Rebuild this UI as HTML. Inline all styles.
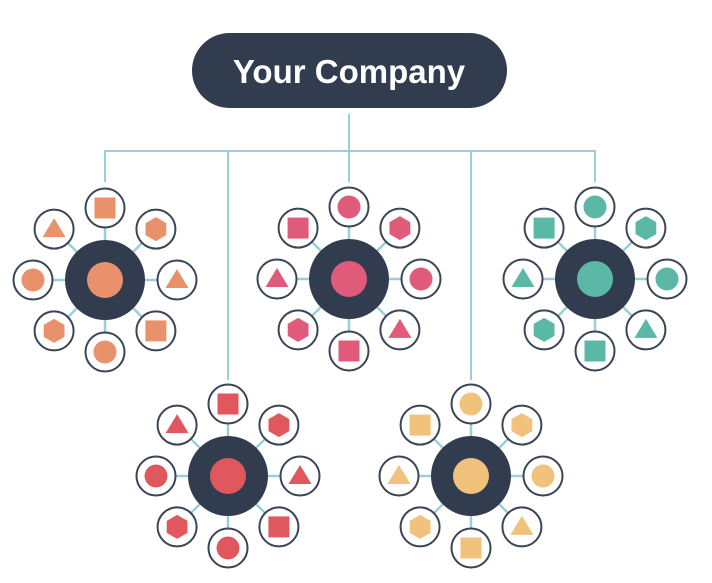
<!DOCTYPE html>
<html><head><meta charset="utf-8"><style>html,body{margin:0;padding:0;background:#fff}svg{display:block}</style></head>
<body>
<svg id="s" width="712" height="583" viewBox="0 0 712 583" xmlns="http://www.w3.org/2000/svg">
<g stroke="#9ACFD8" stroke-width="2" fill="none">
<line x1="349" y1="114" x2="349" y2="151"/>
<line x1="104" y1="151" x2="596" y2="151"/>
<line x1="105" y1="150" x2="105" y2="182"/>
<line x1="228" y1="150" x2="228" y2="380"/>
<line x1="349" y1="150" x2="349" y2="182"/>
<line x1="471" y1="150" x2="471" y2="380"/>
<line x1="595" y1="150" x2="595" y2="182"/>
</g>
<rect x="192" y="33" width="315" height="75" rx="37.5" fill="#313D4E"/>
<text x="349" y="83" text-anchor="middle" font-family="Liberation Sans, sans-serif" font-weight="bold" font-size="33" fill="#fff">Your Company</text>
<g id="f"></g>
</svg>
<script>
var g=document.getElementById('f'),NS='http://www.w3.org/2000/svg',out='';
var A=['sq','hex','tri','sq','ci','hex','ci','tri'],B=['ci','hex','ci','tri','sq','hex','tri','sq'];
var fl=[[105,280,'#E8916B',A],[349,279,'#E05A7A',B],[595,279,'#5BB8A6',B],[228,476,'#E0585E',A],[471,476,'#F0C27B',B]];
function shape(t,x,y,c){
 if(t=='ci')return '<circle cx="'+x+'" cy="'+y+'" r="11.5" fill="'+c+'"/>';
 if(t=='sq')return '<rect x="'+(x-10.5)+'" y="'+(y-10.5)+'" width="21" height="21" fill="'+c+'"/>';
 if(t=='tri')return '<polygon points="'+x+','+(y-11)+' '+(x+11.5)+','+(y+8)+' '+(x-11.5)+','+(y+8)+'" fill="'+c+'"/>';
 var p=[];for(var i=0;i<6;i++){var a=Math.PI/3*i-Math.PI/2;p.push((x+12*Math.cos(a)).toFixed(1)+','+(y+12*Math.sin(a)).toFixed(1));}
 return '<polygon points="'+p.join(' ')+'" fill="'+c+'"/>';
}
fl.forEach(function(f){
 var cx=f[0],cy=f[1],c=f[2];
 for(var i=0;i<8;i++){var a=-Math.PI/2+i*Math.PI/4,d=72;
  var sx=cx+d*Math.cos(a),sy=cy+d*Math.sin(a);
  out+='<line x1="'+(cx+38*Math.cos(a))+'" y1="'+(cy+38*Math.sin(a))+'" x2="'+(cx+52*Math.cos(a))+'" y2="'+(cy+52*Math.sin(a))+'" stroke="#9ACFD8" stroke-width="2.5"/>';
  out+='<circle cx="'+sx+'" cy="'+sy+'" r="19.5" fill="#fff" stroke="#3A4656" stroke-width="2"/>';
  out+=shape(f[3][i],sx,sy,c);
 }
 out+='<circle cx="'+cx+'" cy="'+cy+'" r="40" fill="#313D4E"/><circle cx="'+cx+'" cy="'+cy+'" r="18" fill="'+c+'"/>';
});
g.innerHTML=out;
</script>
</body></html>
